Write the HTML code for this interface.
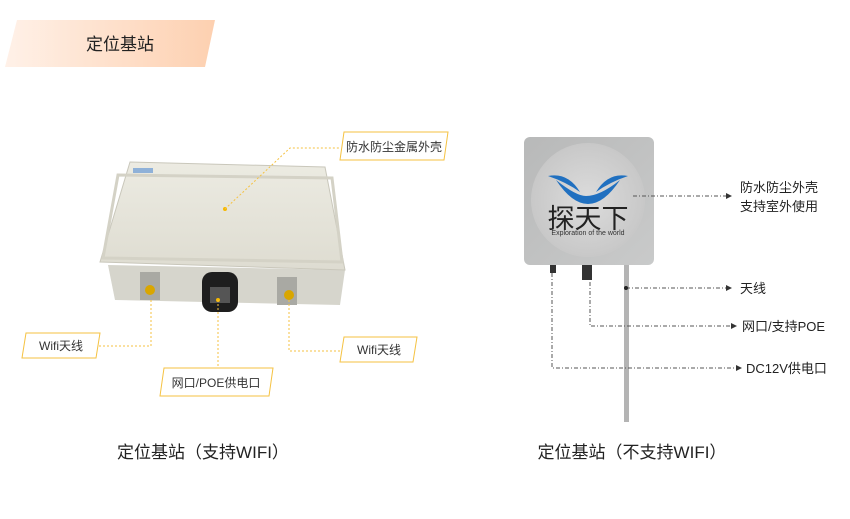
<!DOCTYPE html>
<html><head><meta charset="utf-8"><style>
body{margin:0;background:#fff;}
svg text{font-family:"Liberation Sans","Noto Sans CJK SC",sans-serif;}
</style></head><body>
<svg width="850" height="514" viewBox="0 0 850 514" xmlns="http://www.w3.org/2000/svg">
<defs>
<linearGradient id="bn" x1="0" x2="1" y1="0" y2="0"><stop offset="0" stop-color="#fff1e8"/><stop offset="1" stop-color="#fdd0b0"/></linearGradient>
<linearGradient id="lid" x1="0" x2="0" y1="0" y2="1"><stop offset="0" stop-color="#ecebe2"/><stop offset="1" stop-color="#dedcd1"/></linearGradient>
<linearGradient id="sq" x1="0" x2="1" y1="0" y2="1"><stop offset="0" stop-color="#b8b9b9"/><stop offset="1" stop-color="#c9caca"/></linearGradient>
<radialGradient id="circ"><stop offset="0" stop-color="#dcdcdc"/><stop offset="1" stop-color="#c8c8c8"/></radialGradient>
</defs>
<polygon points="17,20 215,20 205,67 5,67" fill="url(#bn)"/>
<text x="120" y="50" font-size="17" text-anchor="middle" fill="#222">定位基站</text>

<!-- left device -->
<polygon points="108,265 345,270 340,305 115,300" fill="#d6d5cc"/>
<polygon points="130,162 325,167 345,270 100,262" fill="url(#lid)" stroke="#c9c7bb"/>
<polygon points="118,175 332,178 342,262 103,258" fill="none" stroke="#d4d2c6" stroke-width="3"/>
<rect x="133" y="168" width="20" height="5" fill="#8fb1d8"/>
<rect x="140" y="272" width="20" height="28" fill="#a9a9a3"/>
<circle cx="150" cy="290" r="5" fill="#d9a600"/>
<rect x="277" y="277" width="20" height="28" fill="#a9a9a3"/>
<circle cx="289" cy="295" r="5" fill="#d9a600"/>
<rect x="202" y="272" width="36" height="40" rx="10" fill="#1e1e1e"/>
<rect x="210" y="287" width="20" height="16" fill="#555"/>
<circle cx="218" cy="300" r="2" fill="#f5b800"/>
<circle cx="225" cy="209" r="2" fill="#f5b800"/>
<g fill="none" stroke="#f5c242" stroke-dasharray="2,2" stroke-width="1">
<polyline points="225,209 290,148 340,148"/>
<polyline points="151,300 151,346 98,346"/>
<polyline points="218,300 218,372"/>
<polyline points="289,300 289,351 342,351"/>
</g>
<g fill="#fff" stroke="#f5c242" stroke-width="1">
<polygon points="344,132 448,132 444,160 340,160"/>
<polygon points="26,333 100,333 96,358 22,358"/>
<polygon points="164,368 273,368 269,396 160,396"/>
<polygon points="344,337 417,337 413,362 340,362"/>
</g>
<g font-size="12" fill="#333" text-anchor="middle">
<text x="394" y="151">防水防尘金属外壳</text>
<text x="61" y="350">Wifi天线</text>
<text x="216" y="387">网口/POE供电口</text>
<text x="379" y="354">Wifi天线</text>
</g>

<!-- right device -->
<rect x="624" y="262" width="5" height="160" fill="#b4b4b4"/>
<rect x="524" y="137" width="130" height="128" rx="6" fill="url(#sq)"/>
<circle cx="588" cy="200" r="57" fill="url(#circ)"/>
<path d="M548,176 Q568,172 580,192 Q566,182 548,176Z M628,176 Q608,172 596,192 Q610,182 628,176Z M556,180 Q576,196 586,196 Q600,196 620,180 Q604,204 588,204 Q572,204 556,180Z" fill="#2070c0"/>
<text x="588" y="228" font-size="27" text-anchor="middle" fill="#222" font-family="'Noto Sans CJK SC',sans-serif">探天下</text>
<text x="588" y="235" font-size="7" text-anchor="middle" fill="#333">Exploration of the world</text>
<rect x="550" y="265" width="6" height="8" fill="#333"/>
<rect x="582" y="265" width="10" height="15" fill="#333"/>
<g fill="none" stroke="#555" stroke-dasharray="4,2,1,2" stroke-width="1">
<polyline points="633,196 728,196"/>
<polyline points="626,288 728,288"/>
<polyline points="590,282 590,326 733,326"/>
<polyline points="552,273 552,368 738,368"/>
</g>
<g fill="#333">
<polygon points="732,196 726,193 726,199"/>
<polygon points="732,288 726,285 726,291"/>
<polygon points="737,326 731,323 731,329"/>
<polygon points="742,368 736,365 736,371"/>
</g>
<circle cx="626" cy="288" r="2" fill="#222"/>
<g font-size="13" fill="#222">
<text x="740" y="192">防水防尘外壳</text>
<text x="740" y="211">支持室外使用</text>
<text x="740" y="293">天线</text>
<text x="742" y="331">网口/支持POE</text>
<text x="746" y="373">DC12V供电口</text>
</g>
<g font-size="17" fill="#222" text-anchor="middle">
<text x="203" y="458">定位基站（支持WIFI）</text>
<text x="632" y="458">定位基站（不支持WIFI）</text>
</g>
</svg>
</body></html>
